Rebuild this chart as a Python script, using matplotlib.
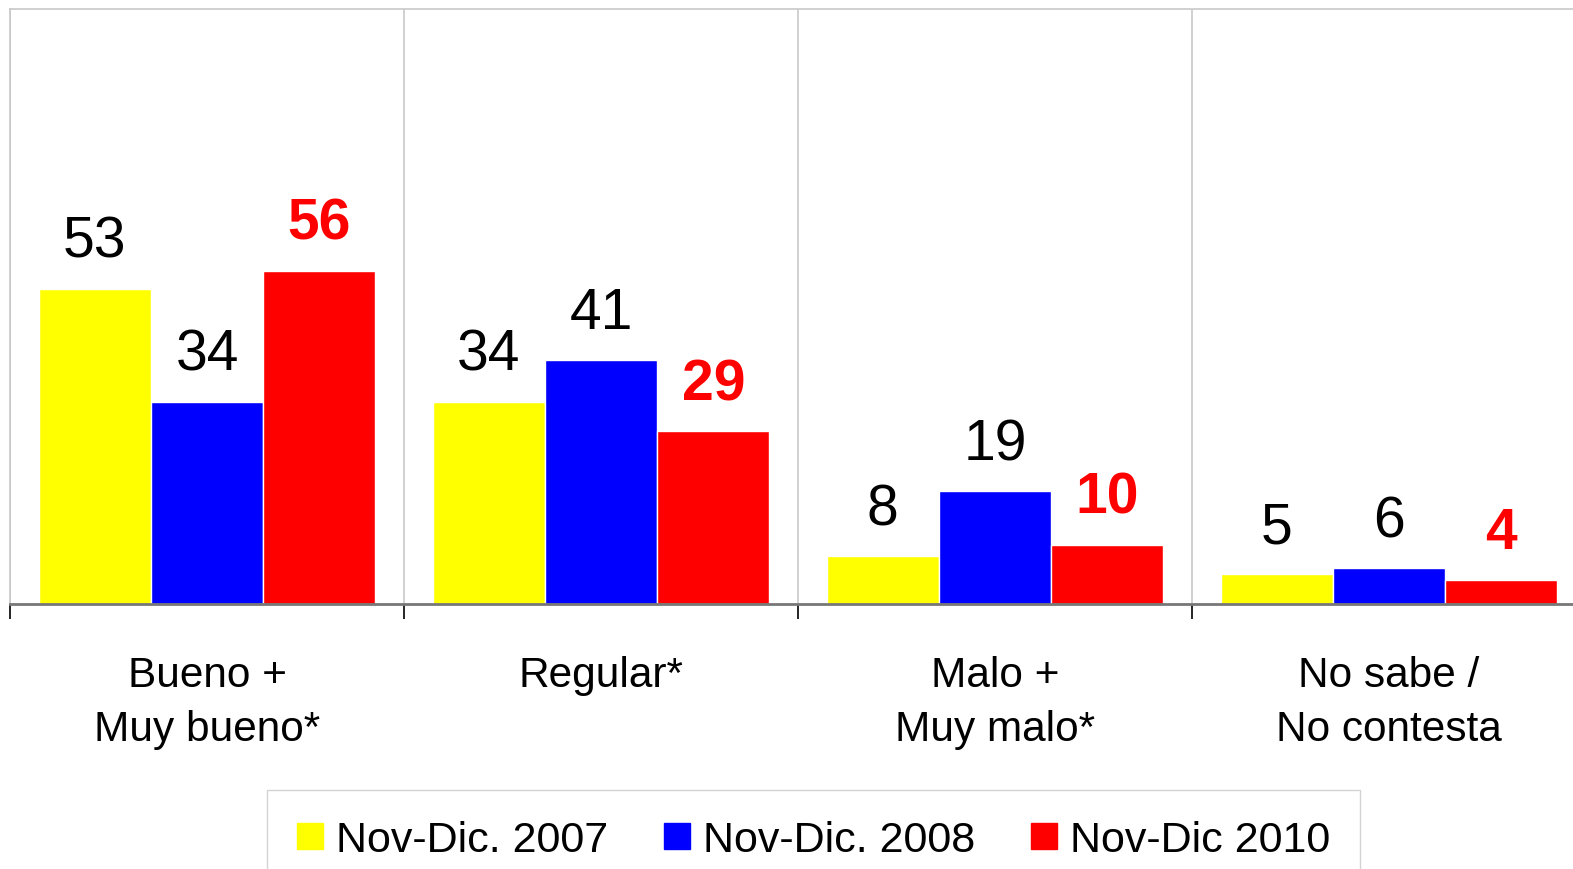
import numpy as np
import matplotlib
matplotlib.use("Agg")
import matplotlib.pyplot as plt
from matplotlib.lines import Line2D

plt.rcParams["font.family"] = ["Liberation Sans", "DejaVu Sans"]

categories = ["Bueno +\nMuy bueno*", "Regular*", "Malo +\nMuy malo*", "No sabe /\nNo contesta"]
series     = ["Nov-Dic. 2007", "Nov-Dic. 2008", "Nov-Dic 2010"]
v2007      = [53, 34, 8, 5]
v2008      = [34, 41, 19, 6]
v2010      = [56, 29, 10, 4]

COLORS     = ["#ffff00", "#0000ff", "#ff0000"]
LABEL_COL  = ["black", "black", "#ff0000"]
LABEL_W    = ["normal", "normal", "bold"]
GRID_COL   = "#c8c8c8"

W, H, DPI = 1573, 870, 100
fig = plt.figure(figsize=(W / DPI, H / DPI), dpi=DPI)
fig.patch.set_facecolor("white")

# plot area runs a little past the right edge of the figure
ax = fig.add_axes([10 / W, 1 - 605 / H, 1576 / W, 595 / H])

x = np.arange(len(categories))
bw = 0.285
offsets = [-bw, 0, bw]

for vals, off, col, lc, lw in zip([v2007, v2008, v2010], offsets, COLORS, LABEL_COL, LABEL_W):
    bars = ax.bar(x + off, vals, width=bw, color=col, edgecolor="white", linewidth=1.0, zorder=3)
    for b, v in zip(bars, vals):
        ax.annotate(f"{v}", (b.get_x() + b.get_width() / 2, v),
                    xytext=(0, 23), textcoords="offset points",
                    ha="center", va="baseline", fontsize=41,
                    color=lc, fontweight=lw)

ax.set_xlim(-0.5, len(categories) - 0.5)
ax.set_ylim(0, 100)
ax.set_yticks([])

ax.set_xticks(x)
ax.set_xticklabels(categories, fontsize=30.5, linespacing=1.45)
ax.tick_params(axis="x", which="major", length=0, pad=37)
ax.set_xticks(np.arange(-0.5, len(categories)), minor=True)
ax.tick_params(axis="x", which="minor", length=11, width=1.2, color="black", direction="out")
ax.grid(which="minor", axis="x", color=GRID_COL, linewidth=1.2, zorder=0)

for side in ["left", "top", "right"]:
    ax.spines[side].set_color(GRID_COL)
    ax.spines[side].set_linewidth(1.2)
ax.spines["bottom"].set_color("#777777")
ax.spines["bottom"].set_linewidth(2)
ax.spines["bottom"].set_zorder(4)

handles = [Line2D([], [], marker="s", linestyle="none", markersize=18.5,
                  markerfacecolor=c, markeredgecolor=c) for c in COLORS]
fig.legend(handles, series, loc="upper left",
           bbox_to_anchor=(267 / W, 1 - 791 / H), ncol=3,
           fontsize=31, frameon=True, fancybox=False,
           edgecolor="#c8c8c8", borderpad=0.7, borderaxespad=0,
           handlelength=0.6, handletextpad=0.3, columnspacing=1.3)

fig.savefig("out.png", dpi=DPI, facecolor="white")
